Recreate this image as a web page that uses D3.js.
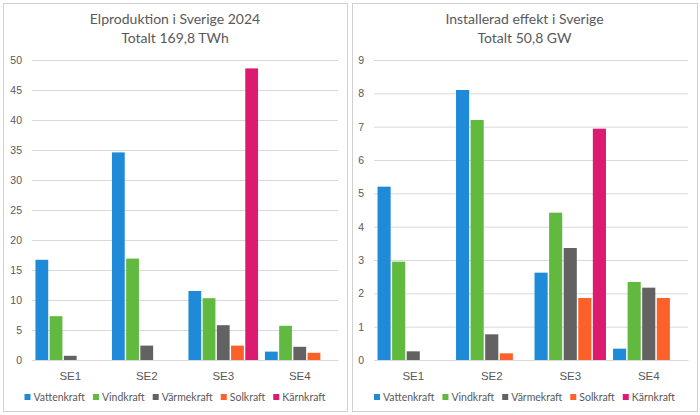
<!DOCTYPE html>
<html>
<head>
<meta charset="utf-8">
<script src="https://cdn.jsdelivr.net/npm/d3@7"></script>
<style>
  body { margin: 0; background: #fff; }
  svg { font-family: Lato, "Open Sans", sans-serif; }
  .tick text { fill: #595959; font-size: 10.5px; }
</style>
</head>
<body>
<div id="chart"></div>
<script>
// regions and sources
var regions = ["SE1", "SE2", "SE3", "SE4"];
var sources = ["Vattenkraft", "Vindkraft", "Värmekraft", "Solkraft", "Kärnkraft"];
var colors = ["#1f8ad8", "#62b940", "#626262", "#fd6129", "#dc1a70"];

// Elproduktion 2024, TWh (SE1..SE4)
var twhVatten = [16.7, 34.6, 11.5, 1.4];
var twhVind = [7.3, 16.9, 10.3, 5.7];
var twhVarme = [0.7, 2.4, 5.8, 2.2];
var twhSol = [0, 0, 2.4, 1.2];
var twhKarn = [0, 0, 48.6, 0];

// Installerad effekt, GW (SE1..SE4)
var gwVatten = [5.2, 8.1, 2.62, 0.34];
var gwVind = [2.95, 7.2, 4.42, 2.34];
var gwVarme = [0.26, 0.77, 3.36, 2.17];
var gwSol = [0, 0.2, 1.86, 1.86];
var gwKarn = [0, 0, 6.94, 0];

var twhTicks = [0, 5, 10, 15, 20, 25, 30, 35, 40, 45, 50];
var gwTicks = [0, 1, 2, 3, 4, 5, 6, 7, 8, 9];

var svg = d3.select("#chart").append("svg")
    .attr("width", 700)
    .attr("height", 415);

function drawPanel(opt) {
  var g = svg.append("g");

  g.append("rect")
      .attr("x", opt.x0 + 0.5).attr("y", 3.5)
      .attr("width", opt.x1 - opt.x0).attr("height", 408)
      .attr("fill", "#fff")
      .attr("stroke", "#d0d0d0");

  var cx = (opt.x0 + opt.x1) / 2;
  g.append("text").attr("x", cx).attr("y", 24)
      .attr("text-anchor", "middle").attr("fill", "#595959")
      .style("font-size", "14px").text(opt.title1);
  g.append("text").attr("x", cx).attr("y", 43)
      .attr("text-anchor", "middle").attr("fill", "#595959")
      .style("font-size", "14px").text(opt.title2);

  var yScale = d3.scaleLinear()
      .domain([0, opt.ymax])
      .range([360, 60]);

  var xScale = d3.scaleBand()
      .domain(regions)
      .range([opt.left, opt.right])
      .paddingInner(0.09)
      .paddingOuter(0.045);

  var xInner = d3.scaleBand()
      .domain(sources)
      .range([0, xScale.bandwidth()])
      .paddingInner(0.1);

  // gridlines
  g.append("g")
      .attr("transform", "translate(" + opt.left + ",0)")
      .call(d3.axisLeft(yScale).tickValues(opt.ticks).tickSize(-(opt.right - opt.left)).tickPadding(opt.tickPad))
      .call(function(a) {
        a.select(".domain").remove();
        a.selectAll(".tick line").attr("stroke", "#d9d9d9");
      });

  var series = opt.series.map(function(vals, i) {
    return {name: sources[i], color: colors[i], values: vals};
  });

  g.selectAll(".serie")
      .data(series)
      .enter().append("g")
      .attr("fill", function(d) { return d.color; })
      .selectAll("rect")
      .data(function(d) {
        return d.values.map(function(v, j) { return {name: d.name, region: regions[j], value: v}; });
      })
      .enter().append("rect")
      .attr("x", function(d) { return xScale(d.region) + xInner(d.name); })
      .attr("width", xInner.bandwidth())
      .attr("y", function(d) { return yScale(d.value); })
      .attr("height", function(d) { return yScale(0) - yScale(d.value); });

  // x axis
  g.append("g")
      .attr("transform", "translate(0," + yScale(0) + ")")
      .call(d3.axisBottom(xScale).tickSize(0).tickPadding(12))
      .call(function(a) {
        a.select(".domain").attr("stroke", "#d9d9d9");
        a.selectAll(".tick text").style("font-size", "11.5px");
      });

  // legend
  var leg = g.append("g");
  var xpos = 0;
  series.forEach(function(s) {
    var item = leg.append("g").attr("transform", "translate(" + xpos + ",0)");
    item.append("rect").attr("x", 0).attr("y", -4).attr("width", 6).attr("height", 6).attr("fill", s.color);
    var t = item.append("text").attr("x", 9).attr("y", 3)
        .attr("fill", "#595959").style("font-size", "10.5px").text(s.name);
    xpos += 9 + t.node().getComputedTextLength() + 8;
  });
  var lw = xpos - 8;
  leg.attr("transform", "translate(" + (cx - lw / 2) + ",398)");
}

drawPanel({
  x0: 3, x1: 347, left: 32, right: 338, tickPad: 10,
  title1: "Elproduktion i Sverige 2024", title2: "Totalt 169,8 TWh",
  ymax: 50, ticks: twhTicks,
  series: [twhVatten, twhVind, twhVarme, twhSol, twhKarn]
});

drawPanel({
  x0: 352, x1: 697, left: 374, right: 688, tickPad: 10,
  title1: "Installerad effekt i Sverige", title2: "Totalt 50,8 GW",
  ymax: 9, ticks: gwTicks,
  series: [gwVatten, gwVind, gwVarme, gwSol, gwKarn]
});
</script>
</body>
</html>
